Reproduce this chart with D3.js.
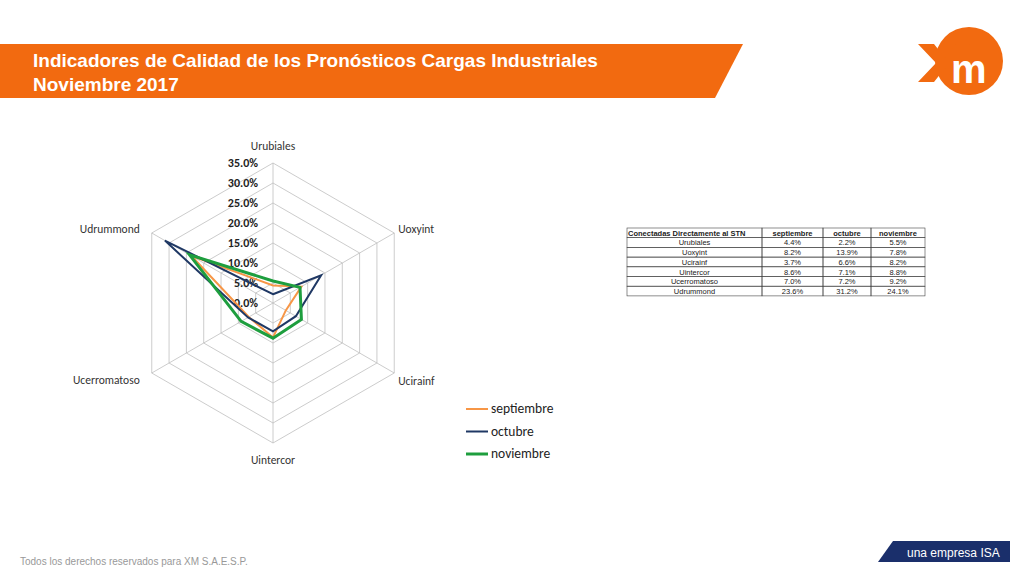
<!DOCTYPE html>
<html><head><meta charset="utf-8">
<script src="https://cdn.jsdelivr.net/npm/d3@7"></script>
<style>body{margin:0;background:#fff}svg{display:block}</style>
</head><body>
<svg id="c" width="1024" height="576"></svg>
<script>
var categories = ["Urubiales", "Uoxyint", "Ucirainf", "Uintercor", "Ucerromatoso", "Udrummond"];
var septiembre = [4.4, 8.2, 3.7, 8.6, 7.0, 23.6];
var octubre = [2.2, 13.9, 6.6, 7.1, 7.2, 31.2];
var noviembre = [5.5, 7.8, 8.2, 8.8, 9.2, 24.1];
var seriesNames = ["septiembre", "octubre", "noviembre"];
var colors = ["#f79646", "#1f3864", "#1e9e3e"];
var ticks = [0, 5, 10, 15, 20, 25, 30, 35];

var svg = d3.select("#c");
var F = "Liberation Sans, Arial, sans-serif";
var C = "Calibri, Carlito, Liberation Sans, sans-serif";

// header banner
svg.append("path").attr("d", "M0,44 L743,44 L715,98 L0,98 Z").attr("fill", "#f26a10");
svg.append("text").attr("x", 33).attr("y", 67).attr("fill", "#fff").attr("font-family", F)
  .attr("font-weight", "bold").attr("font-size", 19).text("Indicadores de Calidad de los Pronósticos Cargas Industriales");
svg.append("text").attr("x", 33).attr("y", 91).attr("fill", "#fff").attr("font-family", F)
  .attr("font-weight", "bold").attr("font-size", 19).text("Noviembre 2017");

// logo
svg.append("circle").attr("cx", 969).attr("cy", 61).attr("r", 34).attr("fill", "#f26a10");
svg.append("path").attr("d", "M918,44 L934,44 L945,58 L956,44 L970,44 L953,63 L970,82 L955,82 L945,68 L934,82 L918,82 L936,63 Z").attr("fill", "#f26a10");
svg.append("text").attr("x", 951).attr("y", 83).attr("fill", "#fff").attr("font-family", F)
  .attr("font-weight", "bold").attr("font-size", 40).attr("letter-spacing", -2).text("m");

// footer
svg.append("text").attr("x", 20).attr("y", 565).attr("fill", "#999").attr("font-family", F)
  .attr("font-size", 10).text("Todos los derechos reservados para XM S.A.E.S.P.");
svg.append("path").attr("d", "M893,541 L1010,541 L1010,562 L878,562 Z").attr("fill", "#1a2f6b");
svg.append("text").attr("x", 907).attr("y", 557).attr("fill", "#fff").attr("font-family", F)
  .attr("font-size", 12).text("una empresa ISA");

// radar
var cx = 273, cy = 303, R = 140;
var r = d3.scaleLinear().domain([0, 35]).range([0, R]);
var ang = function (i) { return i * Math.PI * 2 / categories.length; };
var pt = function (i, v) { return [cx + r(v) * Math.sin(ang(i)), cy - r(v) * Math.cos(ang(i))]; };
var g = svg.append("g");
ticks.forEach(function (t) {
  if (t === 0) return;
  g.append("path").attr("d", d3.line()(categories.map(function (c, i) { return pt(i, t); })) + "Z")
    .attr("fill", "none").attr("stroke", "#bfbfbf").attr("stroke-width", 0.8);
});
var off = [[0, -13], [4, 0], [4, 12], [0, 21], [-12, 11], [-12, 0]];
categories.forEach(function (c, i) {
  var p = pt(i, 35);
  g.append("line").attr("x1", cx).attr("y1", cy).attr("x2", p[0]).attr("y2", p[1])
    .attr("stroke", "#bfbfbf").attr("stroke-width", 0.8);
  var anchor = Math.abs(p[0] - cx) < 1 ? "middle" : (p[0] > cx ? "start" : "end");
  g.append("text").attr("x", p[0] + off[i][0]).attr("y", p[1] + off[i][1]).attr("text-anchor", anchor)
    .attr("font-family", C).attr("font-size", 11.5).attr("fill", "#333").text(c);
});
ticks.forEach(function (t) {
  g.append("text").attr("x", cx - 15).attr("y", cy - r(t) + 4).attr("text-anchor", "end")
    .attr("font-family", C).attr("font-weight", "bold")
    .attr("font-size", 12).attr("fill", "#222").text(t.toFixed(1) + "%");
});
[septiembre, octubre, noviembre].forEach(function (s, k) {
  g.append("path").attr("d", d3.line()(s.map(function (v, i) { return pt(i, v); })) + "Z")
    .attr("fill", "none").attr("stroke", colors[k]).attr("stroke-width", k === 2 ? 3 : 2);
});
// legend
seriesNames.forEach(function (n, k) {
  var y = 409 + k * 22.5;
  svg.append("line").attr("x1", 466).attr("x2", 488).attr("y1", y).attr("y2", y)
    .attr("stroke", colors[k]).attr("stroke-width", k === 2 ? 3 : 2);
  svg.append("text").attr("x", 491).attr("y", y + 4).attr("font-family", C)
    .attr("font-size", 13.5).attr("fill", "#222").text(n);
});

// table
var tx = [627, 762, 823, 871, 925], ty = 228, rh = 9.7;
var header = ["Conectadas Directamente al STN"].concat(seriesNames);
var tg = svg.append("g").attr("font-family", F).attr("font-size", 7.5).attr("fill", "#222");
var rows = categories.map(function (c, i) { return [c, septiembre[i], octubre[i], noviembre[i]]; });
[header].concat(rows).forEach(function (row, ri) {
  var y = ty + ri * rh;
  row.forEach(function (v, ci) {
    tg.append("rect").attr("x", tx[ci]).attr("y", y).attr("width", tx[ci + 1] - tx[ci]).attr("height", rh)
      .attr("fill", "none").attr("stroke", "#444").attr("stroke-width", 0.6);
    var txt = ri === 0 ? v : (ci === 0 ? v : v.toFixed(1) + "%");
    tg.append("text").attr("x", ri === 0 && ci === 0 ? tx[0] + 1 : (tx[ci] + tx[ci + 1]) / 2)
      .attr("y", y + rh - 2).attr("text-anchor", ri === 0 && ci === 0 ? "start" : "middle")
      .attr("font-weight", ri === 0 ? "bold" : "normal").text(txt);
  });
});
</script>
</body></html>
